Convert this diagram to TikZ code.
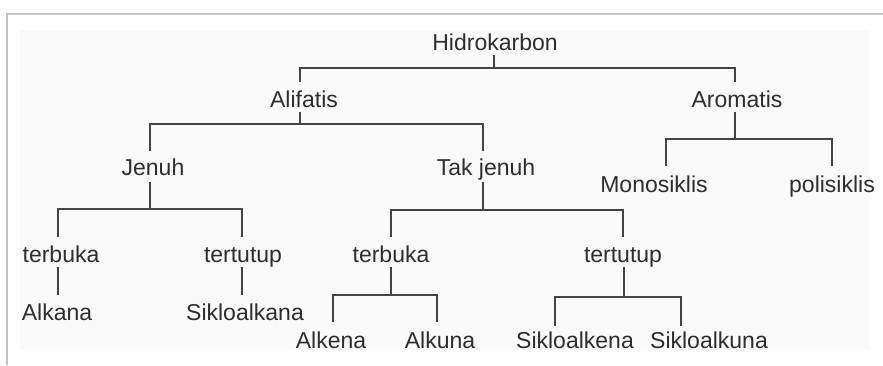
\documentclass[tikz,border=0pt]{standalone}
\usepackage{fontspec}
\setmainfont{Liberation Sans}
\definecolor{txt}{HTML}{2E2E2E}
\definecolor{ln}{HTML}{444444}
\definecolor{frame}{HTML}{C4C4C4}
\definecolor{bgin}{HTML}{FAFAFA}
\begin{document}
\begin{tikzpicture}[x=1pt,y=-1pt,
  lbl/.style={anchor=base,inner sep=0pt,text=txt,font=\fontsize{23}{27}\selectfont},
  conn/.style={draw=ln,line width=2pt}]
\useasboundingbox (0,0) rectangle (883,365);
% frame and faint background
\fill[bgin] (20,30) rectangle (870,350);
\draw[frame,line width=2pt] (7,365) -- (7,14) -- (883,14);
% nodes (base points)
\node[lbl] (hidro)  at (495,50)  {Hidrokarbon};
\node[lbl] (alif)   at (304,107) {Alifatis};
\node[lbl] (arom)   at (737,107) {Aromatis};
\node[lbl] (jenuh)  at (153,175) {Jenuh};
\node[lbl] (takj)   at (486,175) {Tak jenuh};
\node[lbl] (mono)   at (654,192) {Monosiklis};
\node[lbl] (poli)   at (832,192) {polisiklis};
\node[lbl] (terbA)  at (61,262)  {terbuka};
\node[lbl] (tertA)  at (243,262) {tertutup};
\node[lbl] (terbB)  at (391,262) {terbuka};
\node[lbl] (tertB)  at (623,262) {tertutup};
\node[lbl] (alkana) at (57,320)  {Alkana};
\node[lbl] (siklo)  at (245,320) {Sikloalkana};
\node[lbl] (alkena) at (331,348) {Alkena};
\node[lbl] (alkuna) at (440,348) {Alkuna};
\node[lbl] (sikloe) at (575,348) {Sikloalkena};
\node[lbl] (sikloa) at (709,348) {Sikloalkuna};
% connector end points
\coordinate (hidro-b) at (494,55);  \coordinate (bar1) at (494,68);
\coordinate (alif-t)  at (300,82);  \coordinate (arom-t) at (735,82);
\coordinate (alif-b)  at (300,112); \coordinate (bar2) at (300,124);
\coordinate (jenuh-t) at (150,151); \coordinate (takj-t) at (483,151);
\coordinate (arom-b)  at (735,112); \coordinate (bar3) at (735,139);
\coordinate (mono-t)  at (666,166); \coordinate (poli-t) at (832,166);
\coordinate (jenuh-b) at (150,182); \coordinate (bar4) at (150,209);
\coordinate (terbA-t) at (58,237);  \coordinate (tertA-t) at (242,237);
\coordinate (takj-b)  at (483,182); \coordinate (bar5) at (483,210);
\coordinate (terbB-t) at (391,237); \coordinate (tertB-t) at (623,237);
\coordinate (terbA-b) at (58,267);  \coordinate (alkana-t) at (58,295);
\coordinate (tertA-b) at (242,267); \coordinate (siklo-t) at (242,295);
\coordinate (terbB-b) at (391,267); \coordinate (bar8) at (391,295);
\coordinate (alkena-t) at (333,322); \coordinate (alkuna-t) at (437,322);
\coordinate (tertB-b) at (624,267); \coordinate (bar9) at (624,297);
\coordinate (sikloe-t) at (555,326); \coordinate (sikloa-t) at (681,326);
% connectors
\draw[conn] (hidro-b) -- (bar1);
\draw[conn] (alif-t) |- (bar1) -| (arom-t);
\draw[conn] (alif-b) -- (bar2);
\draw[conn] (jenuh-t) |- (bar2) -| (takj-t);
\draw[conn] (arom-b) -- (bar3);
\draw[conn] (mono-t) |- (bar3) -| (poli-t);
\draw[conn] (jenuh-b) -- (bar4);
\draw[conn] (terbA-t) |- (bar4) -| (tertA-t);
\draw[conn] (takj-b) -- (bar5);
\draw[conn] (terbB-t) |- (bar5) -| (tertB-t);
\draw[conn] (terbA-b) -- (alkana-t);
\draw[conn] (tertA-b) -- (siklo-t);
\draw[conn] (terbB-b) -- (bar8);
\draw[conn] (alkena-t) |- (bar8) -| (alkuna-t);
\draw[conn] (tertB-b) -- (bar9);
\draw[conn] (sikloe-t) |- (bar9) -| (sikloa-t);
\end{tikzpicture}
\end{document}
